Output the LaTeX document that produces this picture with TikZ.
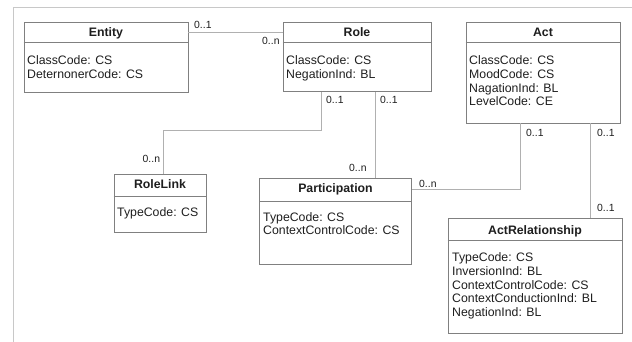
\documentclass[tikz,border=0pt]{standalone}
\usepackage{fontspec}
\setmainfont{Liberation Sans}
\definecolor{boxc}{HTML}{808080}
\definecolor{linec}{HTML}{B0B0B0}
\definecolor{framec}{HTML}{C8C8C8}
\definecolor{txtc}{HTML}{1E1E1E}
\newcommand\mytightls{\lineskiplimit-20pt\relax}
\begin{document}
\begin{tikzpicture}[x=1pt,y=-1pt,
  umlbox/.style={draw=boxc, line width=0.8pt, inner sep=0pt, minimum width=#1},
  divider/.style={draw=boxc, line width=0.8pt},
  conn/.style={draw=linec, line width=0.9pt},
  ttl/.style={anchor=base, inner sep=0pt, text=txtc, font=\fontsize{12.3}{14}\selectfont\bfseries},
  attr/.style={anchor=north west, inner sep=0pt, align=left, text=txtc, font={\fontsize{12.3}{#1}\selectfont\mytightls}},
  mult/.style={anchor=west, inner sep=0pt, text=txtc, font=\fontsize{10.4}{12}\selectfont}
]
\useasboundingbox (0,0) rectangle (632,342);
% frame
\draw[framec, line width=0.8pt] (13,342) -- (13,7) -- (632,7);

% Entity
\node[umlbox=164pt, minimum height=70pt] (entity) at (106,57) {};
\draw[divider] (entity.west |- 0,42) -- (entity.east |- 0,42);
\node[ttl] (entityT) at (106,36.4) {Entity};
\node[attr=14] (entityA) at (27,55) {ClassCode: CS\\DeternonerCode: CS};

% Role
\node[umlbox=148pt, minimum height=69.5pt] (role) at (357,57) {};
\draw[divider] (role.west |- 0,42.7) -- (role.east |- 0,42.7);
\node[ttl] (roleT) at (357,36.9) {Role};
\node[attr=13.5] (roleA) at (286,55.7) {ClassCode: CS\\NegationInd: BL};

% Act
\node[umlbox=154pt, minimum height=101pt] (act) at (543,72.5) {};
\draw[divider] (act.west |- 0,42.7) -- (act.east |- 0,42.7);
\node[ttl] (actT) at (543,36.9) {Act};
\node[attr=13.7] (actA) at (469,55.7) {ClassCode: CS\\MoodCode: CS\\NagationInd: BL\\LevelCode: CE};

% RoleLink
\node[umlbox=92pt, minimum height=58pt] (rolelink) at (160,203.3) {};
\draw[divider] (rolelink.west |- 0,196.5) -- (rolelink.east |- 0,196.5);
\node[ttl] (rolelinkT) at (160,188) {RoleLink};
\node[attr=14] (rolelinkA) at (117,207.3) {TypeCode: CS};

% Participation
\node[umlbox=152pt, minimum height=85.5pt] (part) at (335.5,221.6) {};
\draw[divider] (part.west |- 0,201.5) -- (part.east |- 0,201.5);
\node[ttl] (partT) at (335.5,192.9) {Participation};
\node[attr=13.3] (partA) at (263,212.3) {TypeCode: CS\\ContextControlCode: CS};

% ActRelationship
\node[umlbox=174pt, minimum height=114.7pt] (actrel) at (535,275.6) {};
\draw[divider] (actrel.west |- 0,240) -- (actrel.east |- 0,240);
\node[ttl] (actrelT) at (535,234.4) {ActRelationship};
\node[attr=13.8] (actrelA) at (452,252.3) {TypeCode: CS\\InversionInd: BL\\ContextControlCode: CS\\ContextConductionInd: BL\\NegationInd: BL};

% junction coordinates
\coordinate (j1) at (321,130);
\coordinate (j2) at (163,130);
\coordinate (j3) at (375,0);
\coordinate (j4) at (520,189.5);
\coordinate (j5) at (590,0);

% connectors
\draw[conn] (entity.east |- 0,32.5) -- (role.west |- 0,32.5);
\draw[conn] (role.south -| j1) -- (j1) -- (j2) -- (j2 |- rolelink.north);
\draw[conn] (role.south -| j3) -- (part.north -| j3);
\draw[conn] (part.east |- j4) -- (j4) -- (j4 |- act.south);
\draw[conn] (act.south -| j5) -- (actrel.north -| j5);

% multiplicities
\node[mult] (m1) at (194,25) {0..1};
\node[mult] (m2) at (262,41) {0..n};
\node[mult] (m3) at (326,100) {0..1};
\node[mult] (m4) at (380,100) {0..1};
\node[mult] (m5) at (142.5,158.5) {0..n};
\node[mult] (m6) at (349,168.3) {0..n};
\node[mult] (m7) at (419,184) {0..n};
\node[mult] (m8) at (526,132.5) {0..1};
\node[mult] (m9) at (597,132.5) {0..1};
\node[mult] (m10) at (597,208) {0..1};
\end{tikzpicture}
\end{document}
